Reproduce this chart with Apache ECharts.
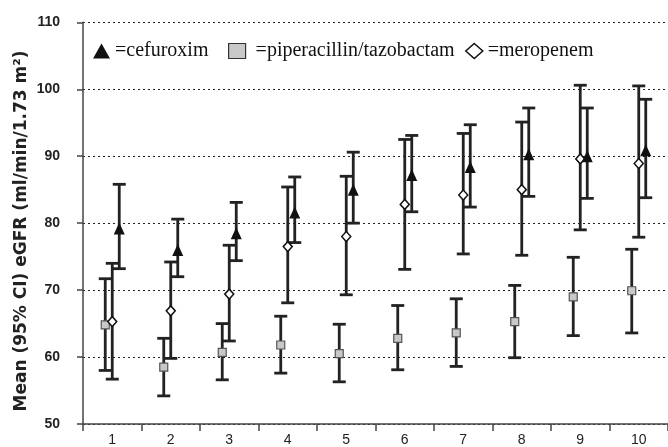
<!DOCTYPE html>
<html><head><meta charset="utf-8">
<script src="https://cdn.jsdelivr.net/npm/echarts@6/dist/echarts.min.js"></script>
<style>html,body{margin:0;padding:0;background:#fff}#c{width:668px;height:447px}</style>
</head><body><div id="c"></div>
<script>
const categories = ['1','2','3','4','5','6','7','8','9','10'];
const yTicks = [50, 60, 70, 80, 90, 100, 110];
const yTitle = 'Mean (95% CI) eGFR (ml/min/1.73 m²)';
// cefuroxim
const cefMean = [79.2, 76.0, 78.5, 81.6, 85.0, 87.2, 88.4, 90.3, 90.0, 90.9];
const cefLow  = [73.2, 72.0, 74.4, 77.1, 80.0, 81.7, 82.4, 84.0, 83.7, 83.8];
const cefHigh = [85.8, 80.6, 83.1, 86.9, 90.6, 93.1, 94.7, 97.2, 97.2, 98.5];
// piperacillin/tazobactam
const pipMean = [64.8, 58.5, 60.7, 61.8, 60.5, 62.8, 63.6, 65.3, 69.0, 69.9];
const pipLow  = [58.0, 54.2, 56.6, 57.6, 56.3, 58.1, 58.6, 59.9, 63.2, 63.6];
const pipHigh = [71.7, 62.8, 65.0, 66.1, 64.9, 67.7, 68.7, 70.7, 74.9, 76.1];
// meropenem
const meroMean = [65.3, 66.9, 69.4, 76.5, 78.0, 82.8, 84.2, 85.0, 89.6, 88.9];
const meroLow  = [56.7, 59.8, 62.4, 68.1, 69.3, 73.1, 75.4, 75.2, 79.0, 77.9];
const meroHigh = [74.0, 74.2, 76.7, 85.4, 87.0, 92.5, 93.4, 95.1, 100.6, 100.5];

const BAR = '#222';
function errSeries(low, high, offset) {
  return {
    type: 'custom', silent: true, z: 2,
    data: low.map((l, i) => [i, l, high[i]]),
    renderItem: function (params, api) {
      const i = api.value(0);
      const p1 = api.coord([i, api.value(1)]);
      const p2 = api.coord([i, api.value(2)]);
      const x = p1[0] + offset, hw = 6.5;
      const st = { stroke: BAR, lineWidth: 2.8 };
      return { type: 'group', children: [
        { type: 'line', shape: { x1: x, y1: p1[1], x2: x, y2: p2[1] }, style: st },
        { type: 'line', shape: { x1: x - hw, y1: p1[1], x2: x + hw, y2: p1[1] }, style: st },
        { type: 'line', shape: { x1: x - hw, y1: p2[1], x2: x + hw, y2: p2[1] }, style: st }
      ]};
    }
  };
}

const legendText = { fontFamily: 'Liberation Serif', fontSize: 20, color: '#111' };
function leg(left, item, fmt) {
  return { left: left, top: 41, itemWidth: 17, itemHeight: 15, padding: 0,
    formatter: fmt, textStyle: legendText, selectedMode: false, data: [item] };
}

const chart = echarts.init(document.getElementById('c'));
chart.setOption({
  animation: false,
  backgroundColor: '#fff',
  grid: { left: 83, right: 0, top: 22.3, bottom: 23 },
  legend: [
    leg(93, { name: 'cefuroxim', icon: 'triangle', itemStyle: { color: '#111', borderWidth: 0 } }, '={name}'),
    leg(228, { name: 'piperacillin/tazobactam', icon: 'rect', itemStyle: { color: '#c8c8c8', borderColor: '#333', borderWidth: 1.2 } }, ' ={name}'),
    leg(465, { name: 'meropenem', icon: 'diamond', itemStyle: { color: '#fff', borderColor: '#111', borderWidth: 1.5 } }, '={name}')
  ],
  graphic: [{
    type: 'text', x: 22, y: 231, rotation: Math.PI / 2,
    style: { text: yTitle, fontFamily: 'DejaVu Sans', fontWeight: 'bold', fontSize: 17, fill: '#222', align: 'center', verticalAlign: 'middle' }
  }],
  xAxis: {
    type: 'category', data: categories, boundaryGap: true,
    axisLine: { lineStyle: { color: '#444', width: 1.5 } },
    axisTick: { show: true, length: 7, lineStyle: { color: '#444', width: 1.5 } },
    axisLabel: { fontFamily: 'Liberation Sans', fontSize: 14, color: '#222', margin: 9 },
    splitLine: { show: false }
  },
  yAxis: {
    type: 'value', min: yTicks[0], max: yTicks[yTicks.length - 1], interval: 10,
    axisLine: { show: true, lineStyle: { color: '#444', width: 1.5 } },
    axisTick: { show: true, length: 6, lineStyle: { color: '#444', width: 1.5 } },
    axisLabel: { fontFamily: 'Liberation Sans', fontSize: 14, fontWeight: 'bold', color: '#222', margin: 23 },
    splitLine: { show: true, lineStyle: { type: [2, 3], color: '#222', width: 1.2 } }
  },
  series: [
    errSeries(pipLow, pipHigh, -7),
    errSeries(meroLow, meroHigh, 0),
    errSeries(cefLow, cefHigh, 7),
    { name: 'piperacillin/tazobactam', type: 'scatter', z: 5, data: pipMean, symbol: 'rect', symbolSize: 8, symbolOffset: [-7, 0],
      itemStyle: { color: '#c8c8c8', borderColor: '#555', borderWidth: 1.2, opacity: 1 } },
    { name: 'meropenem', type: 'scatter', z: 5, data: meroMean, symbol: 'diamond', symbolSize: [9, 10], symbolOffset: [0, 0],
      itemStyle: { color: '#fff', borderColor: '#111', borderWidth: 1.5, opacity: 1 } },
    { name: 'cefuroxim', type: 'scatter', z: 5, data: cefMean, symbol: 'triangle', symbolSize: [11, 12], symbolOffset: [7, 0],
      itemStyle: { color: '#111', opacity: 1 } }
  ]
});
</script></body></html>
